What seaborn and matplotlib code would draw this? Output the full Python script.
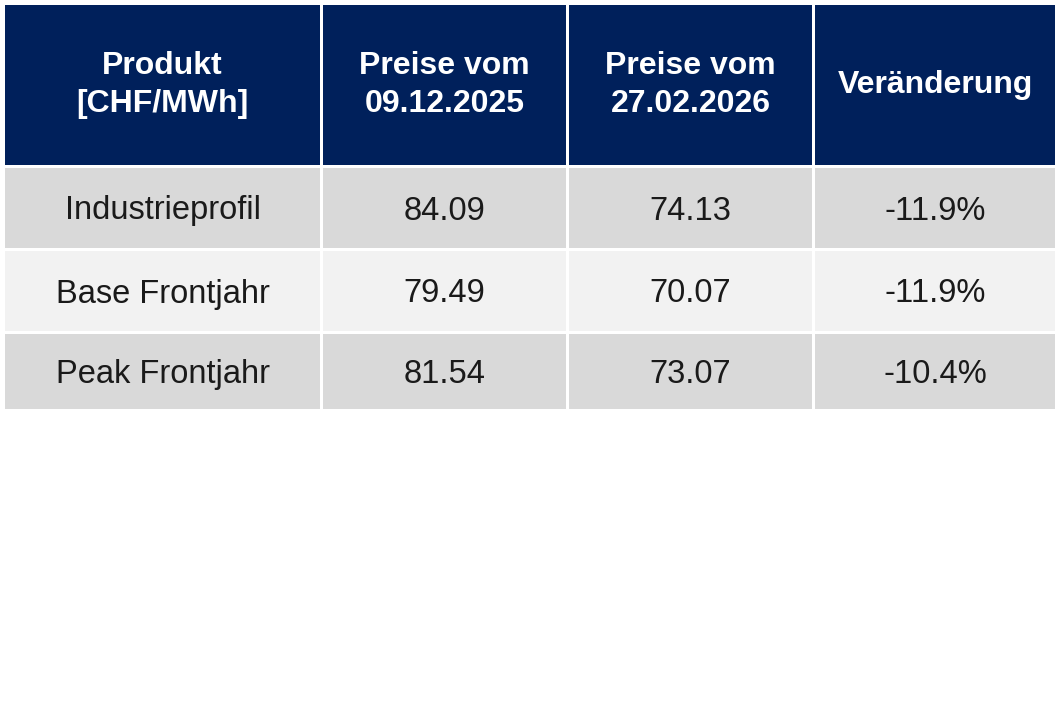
import matplotlib
matplotlib.use("Agg")
import matplotlib.pyplot as plt
import seaborn as sns
from matplotlib.patches import Rectangle

headers = ["Produkt\n[CHF/MWh]", "Preise vom\n09.12.2025", "Preise vom\n27.02.2026", "Veränderung"]
products = ["Industrieprofil", "Base Frontjahr", "Peak Frontjahr"]
price_old = [84.09, 79.49, 81.54]
price_new = [74.13, 70.07, 73.07]
change = ["-11.9%", "-11.9%", "-10.4%"]

sns.set_theme(style="white")
plt.rcParams['font.family'] = ['Liberation Sans', 'DejaVu Sans']

# column edges and row edges in pixels
col_x = [5, 323, 569, 815, 1058]
row_y = [5, 168, 251, 334, 412]
gap = 3
header_color = "#00205B"
row_colors = ["#D9D9D9", "#F2F2F2", "#D9D9D9"]

fig = plt.figure(figsize=(10.61, 7.07), dpi=100)
ax = fig.add_axes([0, 0, 1, 1])
ax.set_xlim(0, 1061)
ax.set_ylim(707, 0)
ax.axis("off")

rows = [headers] + [[p, f"{a:.2f}", f"{b:.2f}", c] for p, a, b, c in zip(products, price_old, price_new, change)]
for r, cells in enumerate(rows):
    y0 = row_y[r]
    y1 = row_y[r + 1] - gap
    color = header_color if r == 0 else row_colors[r - 1]
    for c, txt in enumerate(cells):
        x0 = col_x[c]
        x1 = col_x[c + 1] - gap
        ax.add_patch(Rectangle((x0, y0), x1 - x0, y1 - y0, color=color, lw=0))
        if r == 0:
            ax.text((x0 + x1) / 2, (y0 + y1) / 2, txt, ha="center", va="center",
                    color="white", fontsize=23, fontweight="bold", linespacing=1.35)
        else:
            ax.text((x0 + x1) / 2, (y0 + y1) / 2 + 3, txt, ha="center", va="center",
                    color="#1a1a1a", fontsize=23.5)

fig.savefig("out.png", dpi=100, facecolor="white")
